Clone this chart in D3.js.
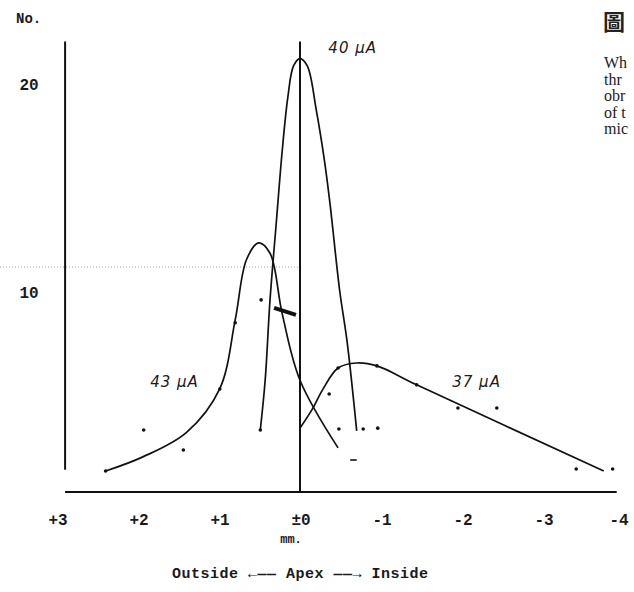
<!DOCTYPE html>
<html lang="en">
    <head>
        <meta charset="utf-8">
        <title>Distribution about the apex</title>

        <script src="https://d3js.org/d3.v7.min.js"></script>

        <style type="text/css">
            body { margin: 0; background: #fff; }
            .tw {
                font-family: "Liberation Mono", monospace;
                font-weight: bold;
                fill: #1a1a1a;
            }
            .hand {
                font-family: "DejaVu Sans", sans-serif;
                font-style: oblique;
                font-size: 15px;
                fill: #1a1a1a;
                letter-spacing: 1px;
            }
            .serif {
                font-family: "Liberation Serif", serif;
                font-size: 16px;
                fill: #222;
            }
        </style>
    </head>
    <body>
        <script type="text/javascript">

            //Data
            const xTicks = [3, 2, 1, 0, -1, -2, -3, -4];   // mm from apex
            const yTicks = [10, 20];                        // No.

            //hand-drawn curves, [mm, No.]
            const curve43 = [[2.40,1.44],[1.94,2.12],[1.40,3.30],[0.99,5.40],[0.80,8.70],[0.66,11.6],[0.51,12.4],[0.37,11.9],[0.22,9.0],[0.0,5.8],[-0.47,2.55]];
            const curve40 = [[0.49,3.41],[0.43,5.8],[0.37,9.66],[0.29,13.5],[0.22,16.8],[0.15,19.4],[0.08,20.9],[0,21.25],[-0.09,20.9],[-0.20,18.8],[-0.30,16.4],[-0.37,14.3],[-0.49,10.1],[-0.58,7.7],[-0.70,3.37]];
            const curve37 = [[0,3.5],[-0.15,4.4],[-0.28,5.35],[-0.47,6.39],[-0.70,6.63],[-0.95,6.49],[-1.44,5.58],[-3.75,1.44]];

            //measured points
            const dots43 = [[2.40,1.44],[1.93,3.41],[1.44,2.45],[0.99,5.38],[0.80,8.56],[0.48,9.66]];
            const dots40 = [[0.49,3.41]];
            const dots37 = [[-0.36,5.14],[-0.48,3.46],[-0.78,3.46],[-0.96,3.5],[-0.47,6.39],[-0.95,6.49],[-1.44,5.58],[-1.95,4.47],[-2.43,4.47],[-3.41,1.54],[-3.86,1.54]];
            const dashes = [[[-0.62,1.97],[-0.70,1.97]], [[0.32,9.28],[0.05,8.94]]];

            //declare consts
            const w = 634;
            const h = 592;

            const x = d3.scaleLinear().domain([3, -4]).range([57, 624]);
            const y = d3.scaleLinear().domain([0, 22]).range([501, 43]);

            const svg = d3.select("body")
                    .append("svg")
                    .attr("width", w)
                    .attr("height", h);

            //faint scanner streak
            svg.append("line")
                .attr("x1", 0).attr("x2", 300)
                .attr("y1", 267).attr("y2", 267)
                .attr("stroke", "#c4c4c4")
                .attr("stroke-width", 1.5)
                .attr("stroke-dasharray", "1,2");

            //axes
            svg.append("line")   // y axis
                .attr("x1", x(2.9)).attr("x2", x(2.9))
                .attr("y1", y(22.07)).attr("y2", y(1.5))
                .attr("stroke", "#111").attr("stroke-width", 2);

            svg.append("line")   // baseline
                .attr("x1", x(2.9)).attr("x2", x(-3.91))
                .attr("y1", y(0.43)).attr("y2", y(0.43))
                .attr("stroke", "#111").attr("stroke-width", 2);

            svg.append("line")   // apex
                .attr("x1", x(0)).attr("x2", x(0))
                .attr("y1", y(22.07)).attr("y2", y(0.43))
                .attr("stroke", "#111").attr("stroke-width", 2);

            //tick labels
            const fmt = d => d > 0 ? "+" + d : (d === 0 ? "\u00b10" : "-" + Math.abs(d));

            svg.selectAll("text.xt")
                .data(xTicks)
                .enter()
                .append("text")
                .attr("class", "tw xt")
                .attr("x", d => Math.min(x(d) + 1, 619))
                .attr("y", 525)
                .attr("text-anchor", "middle")
                .style("font-size", "16px")
                .text(fmt);

            svg.selectAll("text.yt")
                .data(yTicks)
                .enter()
                .append("text")
                .attr("class", "tw yt")
                .attr("x", 29)
                .attr("y", d => y(d))
                .attr("dy", "0.35em")
                .attr("text-anchor", "middle")
                .style("font-size", "16px")
                .text(d => d);

            svg.append("text")
                .attr("class", "tw")
                .attr("x", 16).attr("y", 23)
                .style("font-size", "14px")
                .text("No.");

            svg.append("text")
                .attr("class", "tw")
                .attr("x", x(0) - 9).attr("y", 543)
                .attr("text-anchor", "middle")
                .style("font-size", "12px")
                .text("mm.");

            svg.append("text")
                .attr("class", "tw")
                .attr("x", 172).attr("y", 578)
                .attr("textLength", 256)
                .style("font-size", "15px")
                .text("Outside \u2190\u2014\u2014 Apex \u2014\u2014\u2192 Inside");

            //curves
            const line = d3.line()
                    .x(d => x(d[0]))
                    .y(d => y(d[1]))
                    .curve(d3.curveCatmullRom.alpha(0.5));

            svg.selectAll("path.curve")
                .data([curve43, curve40, curve37])
                .enter()
                .append("path")
                .attr("class", "curve")
                .attr("d", line)
                .attr("fill", "none")
                .attr("stroke", "#111")
                .attr("stroke-width", 1.7);

            //points
            svg.selectAll("circle.pt")
                .data(dots43.concat(dots40, dots37))
                .enter()
                .append("circle")
                .attr("class", "pt")
                .attr("cx", d => x(d[0]))
                .attr("cy", d => y(d[1]))
                .attr("r", 1.8)
                .attr("fill", "#111");

            svg.selectAll("path.dash")
                .data(dashes)
                .enter()
                .append("path")
                .attr("class", "dash")
                .attr("d", d3.line().x(d => x(d[0])).y(d => y(d[1])))
                .attr("stroke", "#111")
                .attr("stroke-width", (d, i) => i === 1 ? 4 : 1.6);

            //curve labels
            const labels = [
                {t: "40 \u03bcA", v: -0.35, n: 21.5},
                {t: "43 \u03bcA", v: 1.85, n: 5.5},
                {t: "37 \u03bcA", v: -1.88, n: 5.5}
            ];
            svg.selectAll("text.lab")
                .data(labels)
                .enter()
                .append("text")
                .attr("class", "hand lab")
                .attr("x", d => x(d.v))
                .attr("y", d => y(d.n))
                .text(d => d.t);

            //neighbouring page text, cut off at the edge
            svg.append("text")
                .attr("x", 603).attr("y", 30)
                .style("font-family", "'Noto Sans CJK TC'")
                .style("font-size", "22px")
                .style("font-weight", "bold")
                .attr("fill", "#222")
                .text("\u5716");

            const sideText = ["Wh", "thr", "obr", "of t", "mic"];
            svg.selectAll("text.side")
                .data(sideText)
                .enter()
                .append("text")
                .attr("class", "serif side")
                .attr("x", 604)
                .attr("y", (d, i) => 68 + i * 16.5)
                .text(d => d);

        </script>
    </body>
</html>
